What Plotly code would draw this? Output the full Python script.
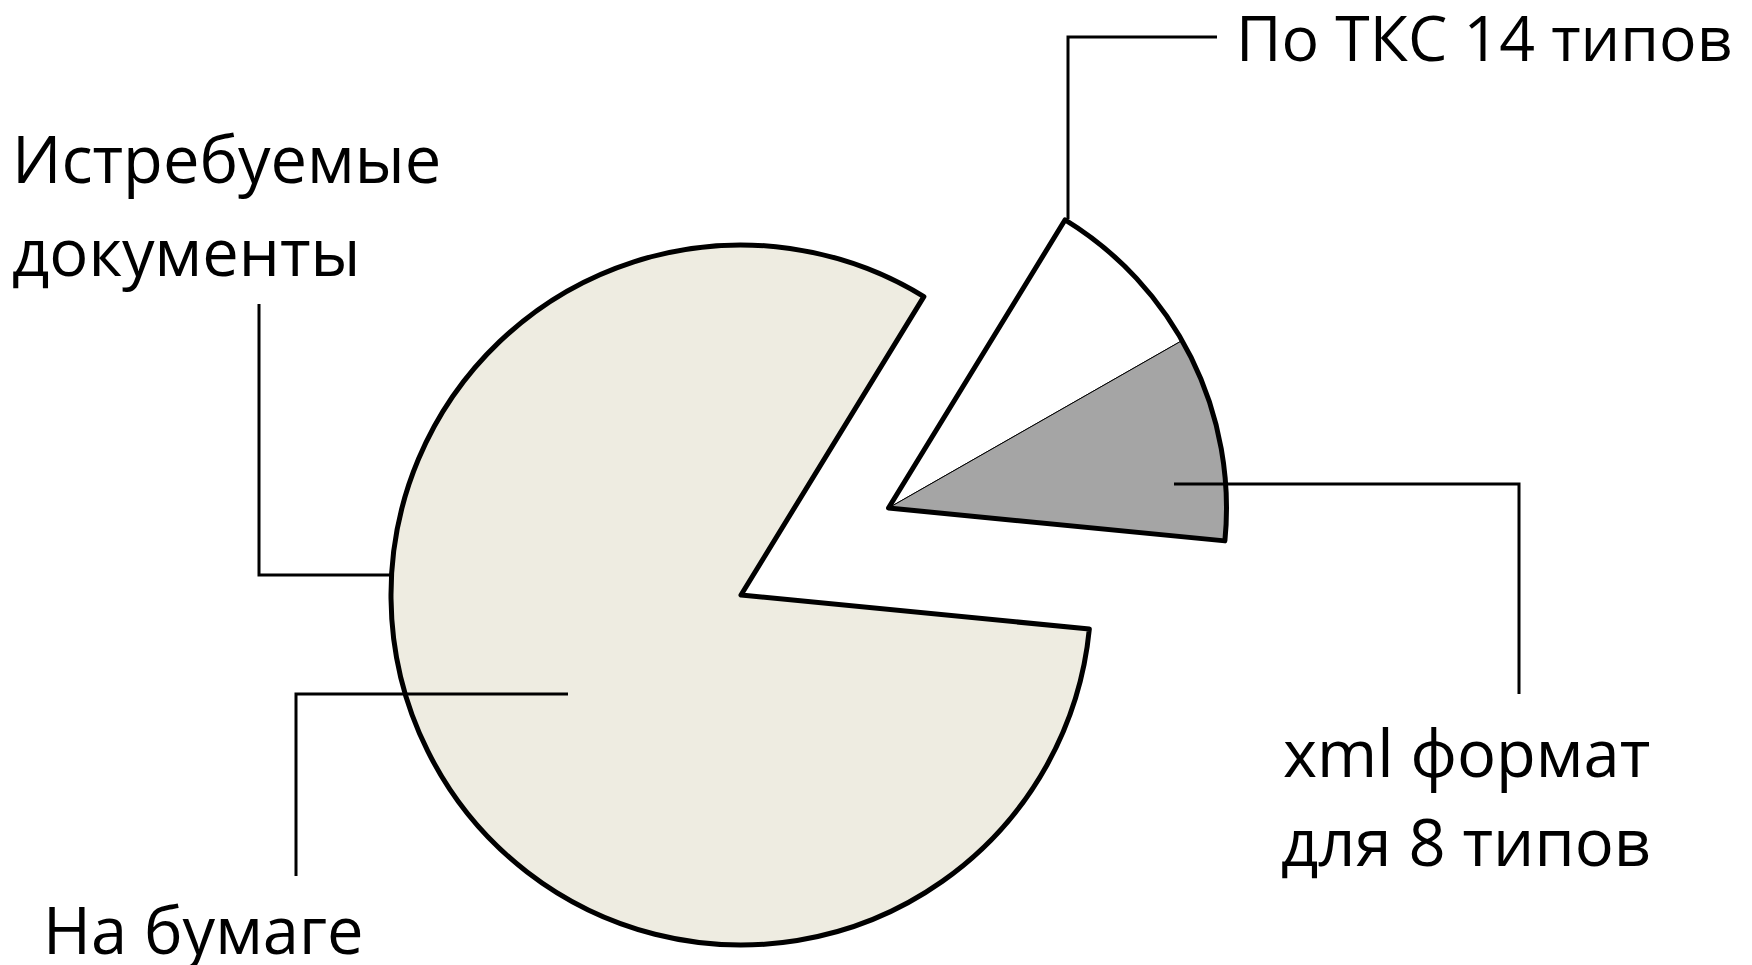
import plotly.graph_objects as go

# ---- data (shares, %) ----
categories = ["По ТКС 14 типов", "xml формат для 8 типов", "На бумаге"]
values = [8.0, 9.8, 82.2]
colors = ["#FFFFFF", "#A5A5A5", "#EEECE1"]
label_lines = {
    "title": ["Истребуемые", "документы"],
    "tks": ["По ТКС 14 типов"],
    "xml": ["xml формат", "для 8 типов"],
    "paper": ["На бумаге"],
}

W, H = 1752, 965
FONT = "Open Sans"
FS = 65
TRANSP = "rgba(0,0,0,0)"


def px(x):
    return x / W


def py(y):
    return (H - y) / H


def domain(cx, cy, r):
    return dict(x=[px(cx - r), px(cx + r)], y=[py(cy + r), py(cy - r)])


BIG = domain(733, 587, 350)
SMALL = domain(880.5, 500, 338)
ROT = 31.5

fig = go.Figure()

# big slice ("На бумаге")
fig.add_trace(go.Pie(
    labels=categories, values=values, sort=False, direction="clockwise",
    rotation=ROT, domain=BIG, textinfo="none", hoverinfo="none",
    marker=dict(colors=[TRANSP, TRANSP, colors[2]],
                line=dict(color="black", width=[0, 0, 5])),
    showlegend=False,
))
# exploded group: fills with thin inner divider
fig.add_trace(go.Pie(
    labels=categories, values=values, sort=False, direction="clockwise",
    rotation=ROT, domain=SMALL, textinfo="none", hoverinfo="none",
    marker=dict(colors=[colors[0], colors[1], TRANSP],
                line=dict(color="black", width=[1, 1, 0])),
    showlegend=False,
))
# thick outline around the exploded group
fig.add_trace(go.Pie(
    labels=["ТКС", "rest"], values=[values[0] + values[1], values[2]],
    sort=False, direction="clockwise",
    rotation=ROT, domain=SMALL, textinfo="none", hoverinfo="none",
    marker=dict(colors=[TRANSP, TRANSP],
                line=dict(color="black", width=[5, 0])),
    showlegend=False,
))

# leader lines
leaders = [
    [(1060, 211), (1060, 29), (1209, 29)],
    [(1166, 476), (1511, 476), (1511, 686)],
    [(251, 296), (251, 567), (383, 567)],
    [(560, 686), (288, 686), (288, 868)],
]
for pts in leaders:
    path = "M " + " L ".join(f"{px(x)},{py(y)}" for x, y in pts)
    fig.add_shape(type="path", path=path, xref="paper", yref="paper",
                  line=dict(color="black", width=3))

texts = [
    (label_lines["tks"][0], 1226, 28, "left", 62.5),
    (label_lines["title"][0], 2, 150, "left", FS),
    (label_lines["title"][1], 2, 243, "left", FS),
    (label_lines["xml"][0], 1458, 744, "center", FS),
    (label_lines["xml"][1], 1458, 833, "center", FS),
    (label_lines["paper"][0], 195, 921, "center", FS),
]
for t, x, y, anc, size in texts:
    fig.add_annotation(text=t, x=px(x), y=py(y), xref="paper", yref="paper",
                       xanchor=anc, yanchor="middle", showarrow=False,
                       font=dict(family=FONT, size=size, color="black"))

fig.update_layout(
    width=W, height=H, autosize=False,
    margin=dict(l=0, r=0, t=0, b=0),
    paper_bgcolor="white", plot_bgcolor="white",
    showlegend=False,
)
fig.write_html("out.html")
